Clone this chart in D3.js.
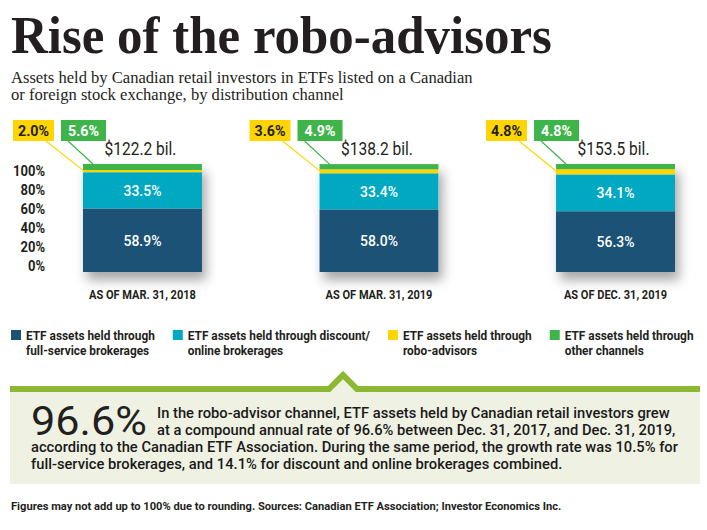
<!DOCTYPE html>
<html>
<head>
<meta charset="utf-8">
<script src="https://cdn.jsdelivr.net/npm/d3@7"></script>
<style>
  body { margin: 0; background: #fff; }
  svg { display: block; font-family: Roboto, "Noto Sans", sans-serif; }
</style>
</head>
<body>
<svg id="chart" width="707" height="530"></svg>
<script>
// Chart values
const dates = ["AS OF MAR. 31, 2018", "AS OF MAR. 31, 2019", "AS OF DEC. 31, 2019"];
const totals = ["$122.2 bil.", "$138.2 bil.", "$153.5 bil."];
const fullService = [58.9, 58.0, 56.3];
const discount = [33.5, 33.4, 34.1];
const robo = [2.0, 3.6, 4.8];
const other = [5.6, 4.9, 4.8];
const yTicks = [0, 20, 40, 60, 80, 100];

const keys = ["full", "discount", "robo", "other"];
const legendLabels = [
  ["ETF assets held through", "full-service brokerages"],
  ["ETF assets held through discount/", "online brokerages"],
  ["ETF assets held through", "robo-advisors"],
  ["ETF assets held through", "other channels"]
];
const colors = { full: "#1b5275", discount: "#00a8c1", robo: "#fed500", other: "#3fb44b" };

const title = "Rise of the robo-advisors";
const subtitle = [
  "Assets held by Canadian retail investors in ETFs listed on a Canadian",
  "or foreign stock exchange, by distribution channel"
];
const bigStat = "96.6%";
const statLines = [
  "In the robo-advisor channel, ETF assets held by Canadian retail investors grew",
  "at a compound annual rate of 96.6% between Dec. 31, 2017, and Dec. 31, 2019,",
  "according to the Canadian ETF Association. During the same period, the growth rate was 10.5% for",
  "full-service brokerages, and 14.1% for discount and online brokerages combined."
];
const footer = "Figures may not add up to 100% due to rounding. Sources: Canadian ETF Association; Investor Economics Inc.";

// Squeeze a set of texts horizontally (about their anchor) by the factor
// that brings refNode to the target width. Returns the factor.
function squeeze(sel, refNode, target) {
  const k = target / refNode.getComputedTextLength();
  sel.each(function() {
    const ax = +(this.getAttribute("x") || 0);
    d3.select(this).attr("transform", `translate(${ax},0) scale(${k},1) translate(${-ax},0)`);
  });
  return k;
}

const svg = d3.select("#chart");

// Drop shadow under the bars
const defs = svg.append("defs");
defs.append("filter")
  .attr("id", "shadow")
  .attr("x", "-30%").attr("y", "-30%").attr("width", "160%").attr("height", "160%")
  .append("feDropShadow")
  .attr("dx", 4).attr("dy", 8).attr("stdDeviation", 6)
  .attr("flood-color", "#000").attr("flood-opacity", 0.35);

// Title and subtitle
const titleText = svg.append("text")
  .attr("x", 11).attr("y", 53)
  .style("font-family", "'Liberation Serif', serif")
  .style("font-weight", "bold")
  .style("font-size", "52px")
  .attr("fill", "#231f20")
  .text(title);
squeeze(titleText, titleText.node(), 541);

const subText = svg.selectAll(".subtitle")
  .data(subtitle)
  .enter()
  .append("text")
  .attr("class", "subtitle")
  .attr("x", 11)
  .attr("y", (d, i) => 83 + i * 17)
  .style("font-family", "'Liberation Serif', serif")
  .style("font-size", "16px")
  .attr("fill", "#231f20")
  .text(d => d);
squeeze(subText, subText.nodes()[0], 462);

// Scales
const rows = dates.map((d, i) => ({
  date: d, full: fullService[i], discount: discount[i], robo: robo[i], other: other[i]
}));
const series = d3.stack().keys(keys)(rows);

const x = d3.scaleBand()
  .domain(dates)
  .range([83, 675])
  .paddingInner(0.497)
  .paddingOuter(0);

const y = d3.scaleLinear().domain([0, 100]).range([272, 164]);
// the printed percentage ticks sit on a slightly tighter ladder than the bars
const yLabel = d3.scaleLinear().domain([0, 100]).range([266.5, 171.5]);

// Bar shadows
svg.append("g")
  .selectAll("rect")
  .data(rows)
  .enter()
  .append("rect")
  .attr("x", d => x(d.date))
  .attr("y", d => y(d.full + d.discount + d.robo + d.other))
  .attr("width", x.bandwidth())
  .attr("height", d => y(0) - y(d.full + d.discount + d.robo + d.other))
  .attr("fill", "#fff")
  .attr("filter", "url(#shadow)");

// Stacked bars
const layers = svg.append("g")
  .selectAll("g")
  .data(series)
  .enter()
  .append("g")
  .attr("fill", d => colors[d.key]);

layers.selectAll("rect")
  .data(d => d)
  .enter()
  .append("rect")
  .attr("x", d => x(d.data.date))
  .attr("y", d => y(d[1]))
  .attr("width", x.bandwidth())
  .attr("height", d => y(d[0]) - y(d[1]));

// Values inside the two big segments
const inner = svg.append("g")
  .selectAll("text")
  .data(series.filter(s => s.key == "full" || s.key == "discount").flatMap(s => s))
  .enter()
  .append("text")
  .attr("x", d => x(d.data.date) + x.bandwidth() / 2)
  .attr("y", d => (y(d[0]) + y(d[1])) / 2)
  .attr("dy", "0.36em")
  .attr("text-anchor", "middle")
  .attr("fill", "#fff")
  .style("font-size", "15px")
  .style("font-weight", 500)
  .text(d => (d[1] - d[0]).toFixed(1) + "%");
squeeze(inner, inner.nodes()[3], 38);

// Totals above the bars
const tot = svg.append("g")
  .selectAll("text")
  .data(rows)
  .enter()
  .append("text")
  .attr("x", d => x(d.date) + x.bandwidth() / 2 - 2)
  .attr("y", 155)
  .attr("text-anchor", "middle")
  .attr("fill", "#231f20")
  .style("font-size", "18px")
  .text((d, i) => totals[i]);
squeeze(tot, tot.nodes()[0], 72);

// Callout boxes for the two thin segments
const callouts = [
  { key: "robo", dx: -70, w: 41, lineFrom: -37, lineTo: 1, text: "#231f20" },
  { key: "other", dx: -22, w: 45, lineFrom: -15, lineTo: 10, text: "#fff" }
];
const calloutTexts = [];
callouts.forEach(c => {
  const s = series.find(d => d.key == c.key);
  const g = svg.append("g");
  g.selectAll("line")
    .data(s)
    .enter()
    .append("line")
    .attr("x1", d => x(d.data.date) + c.lineFrom)
    .attr("y1", 141)
    .attr("x2", d => x(d.data.date) + c.lineTo)
    .attr("y2", d => c.key == "robo" ? (y(d[0]) + y(d[1])) / 2 : y(d[1]))
    .attr("stroke", colors[c.key])
    .attr("stroke-width", 1.2);
  g.selectAll("rect")
    .data(s)
    .enter()
    .append("rect")
    .attr("x", d => x(d.data.date) + c.dx)
    .attr("y", 120)
    .attr("width", c.w)
    .attr("height", 21)
    .attr("fill", colors[c.key]);
  g.selectAll("text")
    .data(s)
    .enter()
    .append("text")
    .attr("x", d => x(d.data.date) + c.dx + c.w / 2)
    .attr("y", 136)
    .attr("text-anchor", "middle")
    .attr("fill", c.text)
    .style("font-size", "14px")
    .style("font-weight", "bold")
    .text(d => (d[1] - d[0]).toFixed(1) + "%")
    .each(function() { calloutTexts.push(this); });
});
squeeze(d3.selectAll(calloutTexts), calloutTexts[0], 31);

// Y axis labels
const yAxis = svg.append("g")
  .attr("transform", "translate(45,0)")
  .call(d3.axisLeft(yLabel).tickValues(yTicks).tickFormat(d => d + "%").tickSize(0).tickPadding(0));
yAxis.select(".domain").remove();
const yt = yAxis.selectAll("text")
  .attr("fill", "#231f20")
  .style("font-family", "Roboto, sans-serif")
  .style("font-size", "14px")
  .style("font-weight", "bold");
squeeze(yt, yt.nodes()[5], 32);

// X axis labels
const xAxis = svg.append("g")
  .attr("transform", "translate(0,290)")
  .call(d3.axisBottom(x).tickSize(0).tickPadding(0));
xAxis.select(".domain").remove();
const xt = xAxis.selectAll("text")
  .attr("fill", "#231f20")
  .style("font-family", "Roboto, sans-serif")
  .style("font-size", "13px")
  .style("font-weight", "bold");
squeeze(xt, xt.nodes()[0], 107);

// Legend
const legend = svg.append("g");
const items = legend.selectAll("g")
  .data(keys)
  .enter()
  .append("g");
items.append("rect")
  .attr("y", 330)
  .attr("width", 10)
  .attr("height", 10)
  .attr("fill", d => colors[d]);
const legTexts = items.selectAll("text")
  .data((d, i) => legendLabels[i])
  .enter()
  .append("text")
  .attr("x", 15)
  .attr("y", (d, i) => 340 + i * 15)
  .attr("fill", "#231f20")
  .style("font-size", "13.5px")
  .style("font-weight", "bold")
  .text(d => d);
const kLeg = squeeze(legTexts, legTexts.nodes()[0], 129);
let lx = 11;
items.each(function() {
  const g = d3.select(this);
  g.attr("transform", `translate(${lx},0)`);
  const widest = d3.max(g.selectAll("text").nodes(), n => n.getComputedTextLength()) * kLeg;
  lx += 15 + widest + 18;
});

// Highlight box with notch
const boxFill = "#eff1e3", olive = "#8cb832";
svg.append("rect")
  .attr("x", 10).attr("y", 389)
  .attr("width", 690).attr("height", 95)
  .attr("fill", boxFill);
svg.append("path")
  .attr("d", "M329,389L343,375L357,389Z")
  .attr("fill", boxFill);
svg.append("path")
  .attr("d", "M10,389H329L343,375L357,389H700")
  .attr("fill", "none")
  .attr("stroke", olive)
  .attr("stroke-width", 6)
  .attr("stroke-linejoin", "miter");

const stat = svg.append("text")
  .attr("x", 31).attr("y", 435)
  .attr("fill", "#231f20")
  .style("font-size", "41px")
  .text(bigStat);
squeeze(stat, stat.node(), 116);

const statText = svg.selectAll(".stat-line")
  .data(statLines)
  .enter()
  .append("text")
  .attr("class", "stat-line")
  .attr("x", (d, i) => i < 2 ? 157 : 31)
  .attr("y", (d, i) => 418 + i * 17)
  .attr("fill", "#1a1a1a")
  .style("font-size", "14.5px")
  .style("font-weight", 500)
  .text(d => d);
squeeze(statText, statText.nodes()[0], 513);

// Footer note
const foot = svg.append("text")
  .attr("x", 11).attr("y", 510)
  .attr("fill", "#231f20")
  .style("font-size", "11.5px")
  .style("font-weight", "bold")
  .text(footer);
squeeze(foot, foot.node(), 551);
</script>
</body>
</html>
